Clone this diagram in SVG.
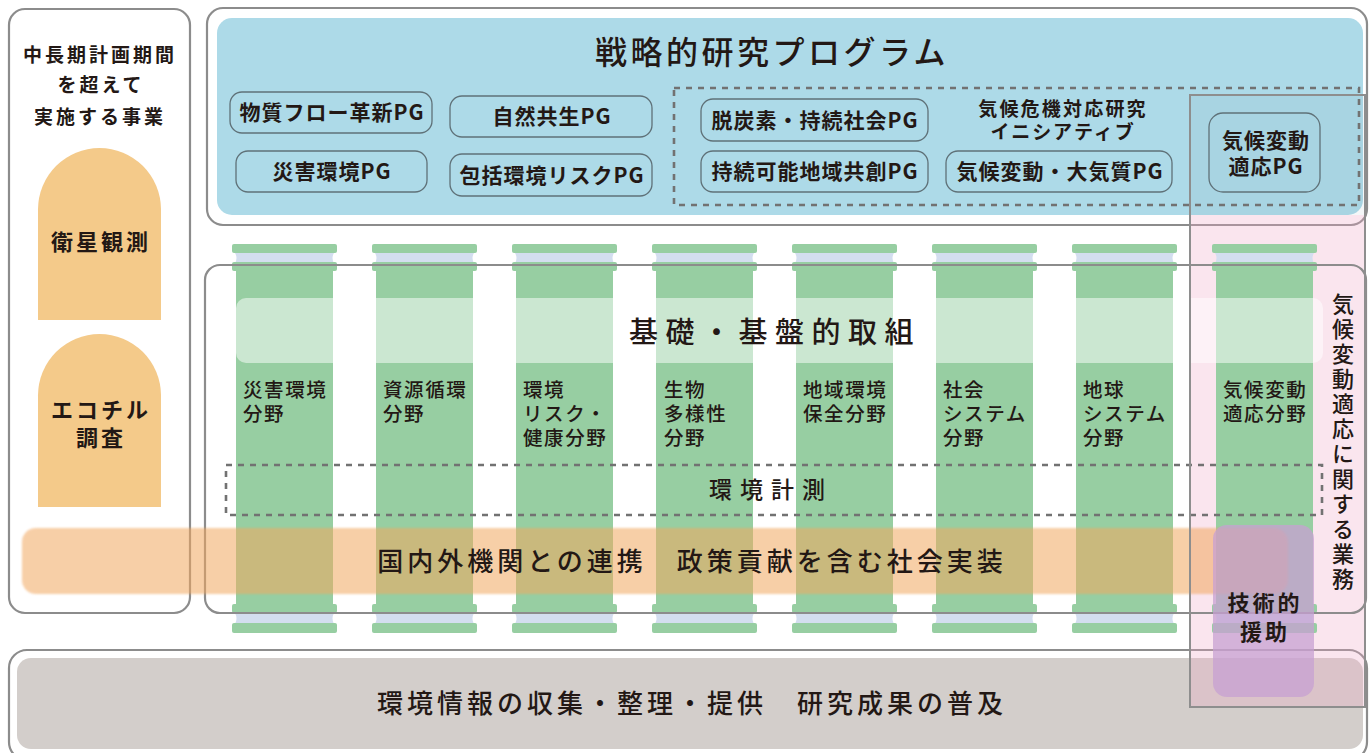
<svg xmlns="http://www.w3.org/2000/svg" xmlns:xlink="http://www.w3.org/1999/xlink" width="1369" height="753" viewBox="0 0 1369 753">
<style>
text{font-family:"Noto Sans CJK JP","Noto Sans",sans-serif;fill:#231815}
.frame{fill:none;stroke:#8c8c8c;stroke-width:2.2}
.pg{fill:none;stroke:#5f7178;stroke-width:1.3}
.pgt{font-size:21px;font-weight:700;letter-spacing:1px;text-anchor:middle}
.g{fill:#97cea2}
.lav{fill:#d3deef}
.lbl{font-size:19.5px;font-weight:500;letter-spacing:1.6px}
.big{font-weight:500;text-anchor:middle}
.lt{font-size:19px;font-weight:700;letter-spacing:3px;text-anchor:middle}
.arch{fill:#f4ca8a}
.at{font-size:22px;font-weight:700;letter-spacing:3px;text-anchor:middle}
.dash{fill:none;stroke:#727272;stroke-width:2.6;stroke-dasharray:6 6}
</style>
<defs>
<g id="pillar">
<rect x="-4" y="244" width="105" height="9" rx="2" class="g"/>
<path d="M-1 253 H98 Q95 258 98 263 H-1 Q2 258 -1 253 Z" class="lav"/>
<rect x="-4" y="262" width="105" height="9" rx="2" class="g"/>
<rect x="0" y="268" width="97" height="339" class="g"/>
<rect x="-4" y="604" width="105" height="9" rx="2" class="g"/>
<path d="M-1 613 H98 Q95 618.5 98 624 H-1 Q2 618.5 -1 613 Z" class="lav"/>
<rect x="-4" y="623" width="105" height="10" rx="2" class="g"/>
</g>
<filter id="soft" x="-5%" y="-20%" width="110%" height="140%"><feGaussianBlur stdDeviation="1"/></filter>
</defs>

<g id="left-box">
<rect x="9" y="9" width="181" height="604" rx="16" class="frame"/>
<text class="lt" x="100" y="62">中長期計画期間</text>
<text class="lt" x="101" y="92">を超えて</text>
<text class="lt" x="100" y="124">実施する事業</text>
</g>
<g id="satellite">
<path d="M38 320 V209.5 A61.5 61.5 0 0 1 161 209.5 V320 Z" class="arch"/>
<text class="at" x="101" y="250">衛星観測</text>
</g>
<g id="ecochil">
<path d="M38 507 V395.5 A61.5 61.5 0 0 1 161 395.5 V507 Z" class="arch"/>
<text class="at" x="101" y="418">エコチル</text>
<text class="at" x="101" y="446">調査</text>
</g>

<g id="strategic">
<rect x="207" y="8" width="1160" height="217" rx="16" class="frame"/>
<rect x="217" y="18" width="1146" height="197" rx="15" fill="#addae8"/>
<text class="big" x="772" y="64" font-size="32" letter-spacing="3.5">戦略的研究プログラム</text>
</g>

<g id="bottom-band">
<rect x="9" y="650" width="1358" height="110" rx="18" class="frame"/>
<rect x="17" y="658" width="1346" height="91" rx="14" fill="#d3cecb"/>
</g>

<g id="climate-frame-fill">
<rect x="1190" y="95" width="175" height="120" fill="#6f8f9c" opacity="0.07"/>
<rect x="1190" y="215" width="175" height="492" fill="#f0a8c8" opacity="0.3"/>
</g>

<g id="pg-boxes">
<g id="pg1"><rect x="230" y="92" width="202" height="41" rx="12" class="pg"/><text class="pgt" x="332" y="120">物質フロー革新PG</text></g>
<g id="pg2"><rect x="450" y="96" width="202" height="41" rx="12" class="pg"/><text class="pgt" x="552" y="124">自然共生PG</text></g>
<g id="pg3"><rect x="236" y="151" width="191" height="41" rx="12" class="pg"/><text class="pgt" x="332" y="179">災害環境PG</text></g>
<g id="pg4"><rect x="450" y="154" width="202" height="42" rx="12" class="pg"/><text class="pgt" x="552" y="183">包括環境リスクPG</text></g>
<g id="initiative">
<rect x="674" y="88" width="685" height="117" class="dash"/>
<text x="1063" y="116" font-size="19" font-weight="700" letter-spacing="2.2" text-anchor="middle">気候危機対応研究</text>
<text x="1063" y="139" font-size="19" font-weight="700" letter-spacing="1.9" text-anchor="middle">イニシアティブ</text>
</g>
<g id="pg5"><rect x="701" y="99" width="227" height="42" rx="12" class="pg"/><text class="pgt" x="815" y="128">脱炭素・持続社会PG</text></g>
<g id="pg6"><rect x="701" y="151" width="227" height="41" rx="12" class="pg"/><text class="pgt" x="815" y="179">持続可能地域共創PG</text></g>
<g id="pg7"><rect x="946" y="151" width="226" height="41" rx="12" class="pg"/><text class="pgt" x="1060" y="179">気候変動・大気質PG</text></g>
<g id="pg8"><rect x="1209" y="113" width="111" height="79" rx="14" class="pg"/>
<text class="pgt" x="1266" y="148" font-size="20" letter-spacing="2">気候変動</text>
<text class="pgt" x="1266" y="174" font-size="20" letter-spacing="1">適応PG</text></g>
</g>

<g id="pillars">
<use href="#pillar" x="236"/>
<use href="#pillar" x="376"/>
<use href="#pillar" x="516"/>
<use href="#pillar" x="656"/>
<use href="#pillar" x="796"/>
<use href="#pillar" x="936"/>
<use href="#pillar" x="1076"/>
<use href="#pillar" x="1216"/>
</g>

<g id="foundation-band">
<rect x="236" y="298" width="1087" height="65" rx="10" fill="#fff" opacity="0.5"/>
<text class="big" x="775" y="343" font-size="29" letter-spacing="7.5">基礎・基盤的取組</text>
</g>

<g id="field-labels">
<text class="lbl"><tspan x="243" y="397">災害環境</tspan><tspan x="243" y="421">分野</tspan></text>
<text class="lbl"><tspan x="383" y="397">資源循環</tspan><tspan x="383" y="421">分野</tspan></text>
<text class="lbl"><tspan x="523" y="397">環境</tspan><tspan x="523" y="421">リスク・</tspan><tspan x="523" y="445">健康分野</tspan></text>
<text class="lbl"><tspan x="664" y="397">生物</tspan><tspan x="664" y="421">多様性</tspan><tspan x="664" y="445">分野</tspan></text>
<text class="lbl"><tspan x="803" y="397">地域環境</tspan><tspan x="803" y="421">保全分野</tspan></text>
<text class="lbl"><tspan x="943" y="397">社会</tspan><tspan x="943" y="421">システム</tspan><tspan x="943" y="445">分野</tspan></text>
<text class="lbl"><tspan x="1083" y="397">地球</tspan><tspan x="1083" y="421">システム</tspan><tspan x="1083" y="445">分野</tspan></text>
<text class="lbl"><tspan x="1223" y="397">気候変動</tspan><tspan x="1223" y="421">適応分野</tspan></text>
</g>

<g id="measurement">
<rect x="226" y="465" width="1096" height="50" class="dash"/>
<text class="big" x="771" y="498" font-size="23" letter-spacing="8">環境計測</text>
</g>

<g id="foundation-frame">
<rect x="205" y="265" width="1161" height="348" rx="15" class="frame"/>
</g>

<g id="cooperation">
<rect x="22" y="528" width="1266" height="66" rx="14" fill="#f2a860" opacity="0.55" filter="url(#soft)"/>
<text class="big" x="692" y="571" font-size="26" letter-spacing="4">国内外機関との連携　政策貢献を含む社会実装</text>
</g>

<g id="info-text">
<text class="big" x="692" y="713" font-size="26" letter-spacing="4">環境情報の収集・整理・提供　研究成果の普及</text>
</g>

<g id="tech-support">
<rect x="1213" y="525" width="101" height="172" rx="14" fill="#c7a0d2" opacity="0.75"/>
<text class="at" x="1265" y="611" font-weight="500" letter-spacing="2">技術的</text>
<text class="at" x="1265" y="640" font-weight="500" letter-spacing="2">援助</text>
</g>

<g id="climate-frame">
<rect x="1190" y="95" width="175" height="612" fill="none" stroke="#8e8e8e" stroke-width="2"/>
<text x="1343" y="293" font-size="22" font-weight="500" letter-spacing="3" style="writing-mode:vertical-rl">気候変動適応に関する業務</text>
</g>
</svg>
